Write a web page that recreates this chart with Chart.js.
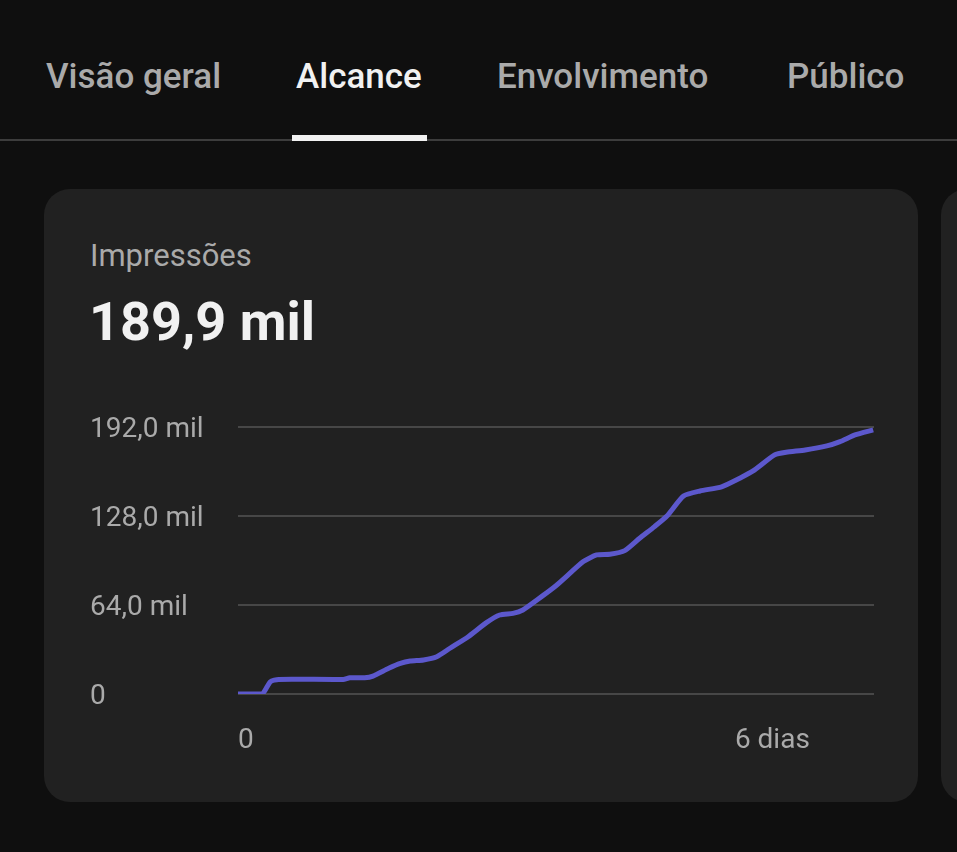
<!DOCTYPE html>
<html lang="pt">
<head>
    <meta charset="UTF-8">
    <title>Alcance - Impressões</title>
    <script src="https://cdn.jsdelivr.net/npm/chart.js"></script>
    <style>
        html, body {
            margin: 0;
            padding: 0;
            background: #0f0f0f;
            width: 957px;
            height: 852px;
            overflow: hidden;
            font-family: Roboto, Arial, sans-serif;
        }
        .tabs {
            position: absolute;
            left: 0; top: 0;
            width: 957px; height: 139px;
            border-bottom: 2px solid #3d3d3d;
        }
        .tab {
            position: absolute;
            top: 56px;
            font-size: 35px;
            font-weight: 500;
            color: #aaaaaa;
            white-space: nowrap;
        }
        .tab.active { color: #f1f1f1; }
        .underline {
            position: absolute;
            left: 292px; top: 135px;
            width: 135px; height: 6px;
            background: #f1f1f1;
        }
        .card {
            position: absolute;
            top: 189px;
            height: 613px;
            background: #212121;
            border-radius: 26px;
        }
        #card1 { left: 44px; width: 874px; }
        #card2 { left: 941px; width: 300px; }
        .title {
            position: absolute;
            left: 46px; top: 48px;
            font-size: 31px;
            color: #aaaaaa;
        }
        .value {
            position: absolute;
            left: 45px; top: 101px;
            font-size: 54px;
            font-weight: 700;
            color: #f1f1f1;
        }
        #chartBox {
            position: absolute;
            left: 90px; top: 400px;
            width: 800px; height: 370px;
        }
    </style>
</head>
<body>
    <div class="tabs">
        <div class="tab" style="left:46px">Visão geral</div>
        <div class="tab active" style="left:296px">Alcance</div>
        <div class="tab" style="left:497px">Envolvimento</div>
        <div class="tab" style="left:787px">Público</div>
        <div class="underline"></div>
    </div>
    <div class="card" id="card1">
        <div class="title">Impressões</div>
        <div class="value">189,9 mil</div>
    </div>
    <div class="card" id="card2"></div>
    <div id="chartBox"><canvas id="myChart"></canvas></div>

    <script>
        // days since publish, cumulative impressions
        const days = [0, 0.29, 0.39, 0.49, 1.27, 1.35, 1.53, 1.63, 1.82, 1.96, 2.08, 2.24, 2.40, 2.56, 2.78,
            3.00, 3.16, 3.32, 3.44, 3.61, 3.85, 4.17, 4.33, 4.49, 4.67, 4.85, 5.03, 5.18, 5.38, 5.58,
            5.84, 6.06, 6.22, 6.48, 6.62, 6.85, 7.11, 7.27, 7.45, 7.67];
        const impressions = [0, 0, 8800, 10500, 10500, 11700, 11700, 12900, 18500, 22000, 23700, 24500, 26800, 32900, 41200,
            51300, 56800, 58000, 60400, 67600, 78400, 95200, 100000, 100500, 103100, 112000, 120400, 128000, 142400, 146000,
            149000, 155200, 160400, 172000, 173900, 175500, 178400, 181500, 186300, 189900];
        const yTicks = [0, 64000, 128000, 192000];
        const yTickLabels = ['0', '64,0 mil', '128,0 mil', '192,0 mil'];
        const xTicks = [0, 6];
        const xTickLabels = ['0', '6 dias'];

        const ctx = document.getElementById('myChart').getContext('2d');

        new Chart(ctx, {
            type: 'line',
            data: {
                datasets: [{
                    label: 'Impressões',
                    data: days.map((d, i) => ({ x: d, y: impressions[i] })),
                    borderColor: '#5c58cc',
                    borderWidth: 5,
                    pointRadius: 0,
                    tension: 0.2,
                    fill: false
                }]
            },
            options: {
                responsive: true,
                maintainAspectRatio: false,
                animation: false,
                layout: { padding: { top: 27, right: 16, left: 0, bottom: 0 } },
                scales: {
                    x: {
                        type: 'linear',
                        min: 0,
                        max: 7.68,
                        afterBuildTicks: axis => { axis.ticks = xTicks.map(v => ({ value: v })); },
                        afterFit: axis => { axis.height = 76; },
                        border: { display: false },
                        grid: { display: false },
                        ticks: {
                            align: 'start',
                            padding: 22,
                            maxRotation: 0,
                            color: '#aaaaaa',
                            font: { family: 'Roboto', size: 28 },
                            callback: (v) => xTickLabels[xTicks.indexOf(v)]
                        }
                    },
                    y: {
                        min: 0,
                        max: 192000,
                        afterBuildTicks: axis => { axis.ticks = yTicks.map(v => ({ value: v })); },
                        afterFit: axis => { axis.width = 148; },
                        border: { display: false },
                        grid: { color: '#474747', lineWidth: 2, drawTicks: false },
                        ticks: {
                            crossAlign: 'far',
                            padding: 0,
                            labelOffset: 3,
                            color: '#aaaaaa',
                            font: { family: 'Roboto', size: 28 },
                            callback: (v) => yTickLabels[yTicks.indexOf(v)]
                        }
                    }
                },
                plugins: {
                    legend: { display: false },
                    tooltip: { enabled: false }
                }
            }
        });
    </script>
</body>
</html>
